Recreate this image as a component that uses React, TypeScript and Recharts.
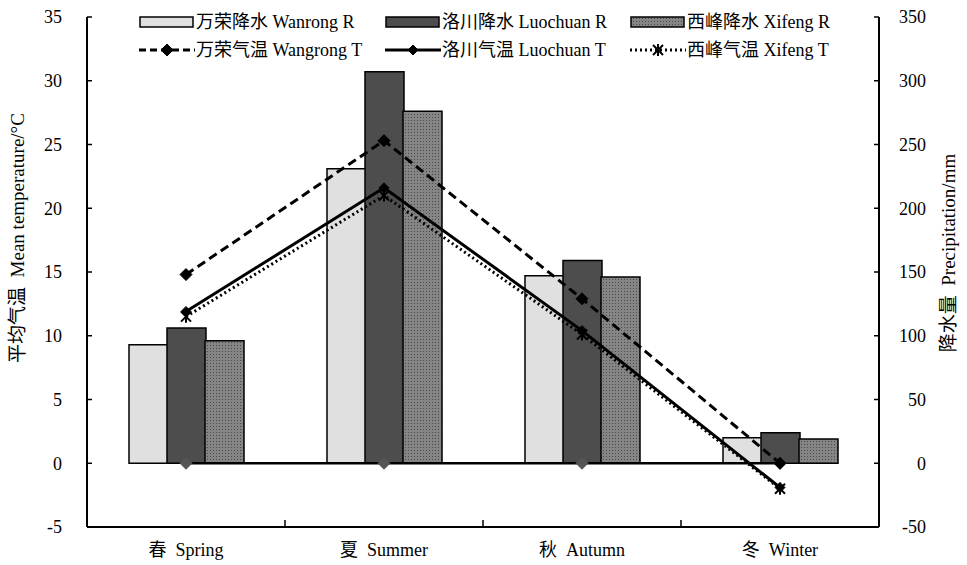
import React from "react";
import { Bar, ComposedChart, Legend, Line, XAxis, YAxis } from "recharts";

// seasons and values
const seasons = ["春  Spring", "夏  Summer", "秋  Autumn", "冬  Winter"];

const wanrongRain = [93, 231, 147, 20];
const luochuanRain = [106, 307, 159, 24];
const xifengRain = [96, 276, 146, 19];

const wanrongTemp = [14.8, 25.3, 12.9, 0.0];
const luochuanTemp = [11.9, 21.6, 10.4, -1.9];
const xifengTemp = [11.5, 21.0, 10.1, -2.0];
const zeroLine = [0, 0, 0, 0];

const tempTicks = [-5, 0, 5, 10, 15, 20, 25, 30, 35];
const rainTicks = [-50, 0, 50, 100, 150, 200, 250, 300, 350];

const data = seasons.map((season, i) => ({
  season,
  wanrongR: wanrongRain[i],
  luochuanR: luochuanRain[i],
  xifengR: xifengRain[i],
  wanrongT: wanrongTemp[i],
  luochuanT: luochuanTemp[i],
  xifengT: xifengTemp[i],
  zero: zeroLine[i],
}));

const W = 967;
const H = 565;
const BAND = (879 - 87) / seasons.length;
const FONT = '"Liberation Serif", "Times New Roman", "Noto Sans CJK SC", serif';

const Diamond = ({ cx, cy, r, fill }: any) => (
  <path
    d={`M${cx},${cy - r} L${cx + r},${cy} L${cx},${cy + r} L${cx - r},${cy} Z`}
    fill={fill}
    stroke={fill}
    strokeWidth={1}
    strokeLinejoin="round"
  />
);

const Star = ({ cx, cy, r }: any) => (
  <g stroke="#000" strokeWidth={2}>
    <line x1={cx - r} y1={cy - r} x2={cx + r} y2={cy + r} />
    <line x1={cx - r} y1={cy + r} x2={cx + r} y2={cy - r} />
    <line x1={cx} y1={cy - r - 1} x2={cx} y2={cy + r + 1} />
  </g>
);

const LeftTick = (props: any) => {
  const { x, y, payload } = props;
  return (
    <g>
      <line x1={x + 25} x2={x + 30} y1={y} y2={y} stroke="#000" strokeWidth={1.5} />
      <text x={x} y={y} dy="0.35em" textAnchor="end" fontSize={18} fontFamily={FONT} fill="#000">
        {payload.value}
      </text>
    </g>
  );
};

const RightTick = (props: any) => {
  const { x, y, payload } = props;
  return (
    <g>
      <line x1={x - 47} x2={x - 52} y1={y} y2={y} stroke="#000" strokeWidth={1.5} />
      <text x={x} y={y} dy="0.35em" textAnchor="end" fontSize={18} fontFamily={FONT} fill="#000">
        {payload.value}
      </text>
    </g>
  );
};

const SeasonTick = (props: any) => {
  const { x, y, payload, index } = props;
  return (
    <g>
      {index < seasons.length - 1 && (
        <line x1={x + BAND / 2} x2={x + BAND / 2} y1={y} y2={y - 7} stroke="#000" strokeWidth={1.5} />
      )}
      <text x={x} y={y + 23} dy="0.35em" textAnchor="middle" fontSize={18} fontFamily={FONT} fill="#000" style={{ whiteSpace: "pre" }}>
        {payload.value}
      </text>
    </g>
  );
};

type LegendItem = { label: string; kind: string; fill?: string; x: number; y: number };

const legendItems: LegendItem[] = [
  { label: "万荣降水 Wanrong R", kind: "bar", fill: "#e0e0e0", x: 139, y: 22 },
  { label: "洛川降水 Luochuan R", kind: "bar", fill: "#4d4d4d", x: 385, y: 22 },
  { label: "西峰降水 Xifeng R", kind: "bar", fill: "url(#xfDotsLg)", x: 630, y: 22 },
  { label: "万荣气温 Wangrong T", kind: "dash", x: 139, y: 50 },
  { label: "洛川气温 Luochuan T", kind: "solid", x: 385, y: 50 },
  { label: "西峰气温 Xifeng T", kind: "dot", x: 630, y: 50 },
];

const Swatch = ({ item }: { item: LegendItem }) => {
  if (item.kind === "bar") {
    return <rect x={1} y={5} width={53} height={10} fill={item.fill} stroke="#000" strokeWidth={1.5} />;
  }
  const dash = item.kind === "dash" ? "7 4" : item.kind === "dot" ? "2 3" : undefined;
  return (
    <g>
      <line x1={0} x2={56} y1={10} y2={10} stroke="#000" strokeWidth={3} strokeDasharray={dash} />
      {item.kind === "dot" ? <Star cx={28} cy={10} r={5} /> : <Diamond cx={28} cy={10} r={item.kind === "dash" ? 6 : 5} fill="#000" />}
    </g>
  );
};

const LegendBox = () => (
  <div style={{ position: "relative", width: W, height: 70 }}>
    {legendItems.map((item) => (
      <div
        key={item.label}
        style={{ position: "absolute", left: item.x, top: item.y - 10, display: "flex", alignItems: "center", height: 20 }}
      >
        <svg width={57} height={20}>
          <defs>
            <pattern id="xfDotsLg" width="3" height="3" patternUnits="userSpaceOnUse">
              <rect width="3" height="3" fill="#858585" />
              <rect width="1" height="1" fill="#4a4a4a" />
            </pattern>
          </defs>
          <Swatch item={item} />
        </svg>
        <span style={{ fontFamily: FONT, fontSize: 18, color: "#000", whiteSpace: "pre", lineHeight: "20px" }}>{item.label}</span>
      </div>
    ))}
  </div>
);

const App: React.FC = () => {
  return (
    <div style={{ position: "absolute", left: 0, top: 0, width: W, height: H, background: "#fff" }}>
      <ComposedChart width={W} height={H} data={data} margin={{ top: 17, right: 0, bottom: 0, left: 0 }} barGap={-1}>
        <defs>
          <pattern id="xfDots" width="3" height="3" patternUnits="userSpaceOnUse">
            <rect width="3" height="3" fill="#858585" />
            <rect width="1" height="1" fill="#4a4a4a" />
          </pattern>
        </defs>
        <XAxis
          dataKey="season"
          height={38}
          tickSize={0}
          tickMargin={0}
          tickLine={false}
          axisLine={{ stroke: "#000", strokeWidth: 2 }}
          tick={<SeasonTick />}
          interval={0}
        />
        <YAxis
          yAxisId="left"
          width={87}
          domain={[-5, 35]}
          ticks={tempTicks}
          interval={0}
          tickSize={0}
          tickMargin={25}
          tickLine={false}
          axisLine={{ stroke: "#000", strokeWidth: 2 }}
          tick={<LeftTick />}
          label={{
            content: () => (
              <text transform="translate(24,238) rotate(-90)" textAnchor="middle" fontSize={19} fontFamily={FONT} fill="#000" style={{ whiteSpace: "pre" }}>
                {"平均气温  Mean temperature/°C"}
              </text>
            ),
          }}
        />
        <YAxis
          yAxisId="right"
          orientation="right"
          width={88}
          domain={[-50, 350]}
          ticks={rainTicks}
          interval={0}
          tickSize={0}
          tickMargin={47}
          tickLine={false}
          axisLine={{ stroke: "#000", strokeWidth: 2 }}
          tick={<RightTick />}
          label={{
            content: () => (
              <text transform="translate(955,253) rotate(-90)" textAnchor="middle" fontSize={19} fontFamily={FONT} fill="#000" style={{ whiteSpace: "pre" }}>
                {"降水量  Precipitation/mm"}
              </text>
            ),
          }}
        />
        <Legend
          layout="horizontal"
          verticalAlign="middle"
          align="center"
          wrapperStyle={{ top: 0, left: 0, width: W, height: 70 }}
          content={() => <LegendBox />}
        />
        <Bar yAxisId="right" dataKey="wanrongR" name="万荣降水 Wanrong R" barSize={39} fill="#e0e0e0" stroke="#000" strokeWidth={1.5} isAnimationActive={false} />
        <Bar yAxisId="right" dataKey="luochuanR" name="洛川降水 Luochuan R" barSize={39} fill="#4d4d4d" stroke="#000" strokeWidth={1.5} isAnimationActive={false} />
        <Bar yAxisId="right" dataKey="xifengR" name="西峰降水 Xifeng R" barSize={39} fill="url(#xfDots)" stroke="#000" strokeWidth={1.5} isAnimationActive={false} />
        <Line
          yAxisId="left"
          dataKey="zero"
          stroke="#000"
          strokeWidth={2.5}
          dot={(p: any) => <Diamond key={p.index} cx={p.cx} cy={p.cy} r={6} fill="#555" />}
          activeDot={false}
          legendType="none"
          isAnimationActive={false}
        />
        <Line
          yAxisId="left"
          dataKey="xifengT"
          name="西峰气温 Xifeng T"
          stroke="#000"
          strokeWidth={3}
          strokeDasharray="2 3"
          dot={(p: any) => <Star key={p.index} cx={p.cx} cy={p.cy} r={5} />}
          activeDot={false}
          isAnimationActive={false}
        />
        <Line
          yAxisId="left"
          dataKey="luochuanT"
          name="洛川气温 Luochuan T"
          stroke="#000"
          strokeWidth={3}
          dot={(p: any) => <Diamond key={p.index} cx={p.cx} cy={p.cy} r={5} fill="#000" />}
          activeDot={false}
          isAnimationActive={false}
        />
        <Line
          yAxisId="left"
          dataKey="wanrongT"
          name="万荣气温 Wangrong T"
          stroke="#000"
          strokeWidth={3}
          strokeDasharray="9 5"
          dot={(p: any) => <Diamond key={p.index} cx={p.cx} cy={p.cy} r={6} fill="#000" />}
          activeDot={false}
          isAnimationActive={false}
        />
      </ComposedChart>
    </div>
  );
};

export default App;
